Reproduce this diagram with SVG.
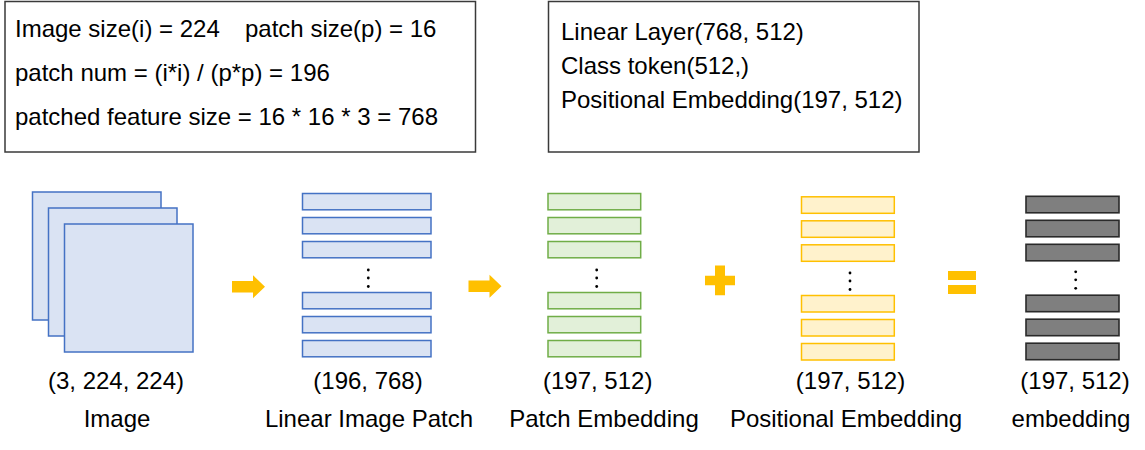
<svg xmlns="http://www.w3.org/2000/svg" width="1145" height="450" viewBox="0 0 1145 450">
<style>
text{font-family:"Liberation Sans",Arial,sans-serif;font-size:24px;fill:#000}
.c{text-anchor:middle}
.box{fill:#fff;stroke:#3a3a3a;stroke-width:1.5}
.blue{fill:#dae3f3;stroke:#4472c4;stroke-width:1.5}
.green{fill:#e2f0d9;stroke:#70ad47;stroke-width:1.5}
.yellow{fill:#fff2cc;stroke:#ffc000;stroke-width:1.5}
.gray{fill:#7f7f7f;stroke:#2a2a2a;stroke-width:1.6}
.dot{fill:#000}
.op{fill:#ffc000}
</style>
<defs>
<path id="arrow" d="M0,-5.8 H21 V-11.5 L33,0 L21,11.5 V5.8 H0 Z"/>
<g id="dots"><circle cx="0" cy="0" r="1.4"/><circle cx="0" cy="8" r="1.4"/><circle cx="0" cy="16.5" r="1.4"/></g>
</defs>
<rect width="1145" height="450" fill="#fff"/>

<g id="info-box">
<rect class="box" x="5" y="1.5" width="470.5" height="150.5"/>
<text x="15" y="37">Image size(i) = 224</text>
<text x="245" y="37">patch size(p) = 16</text>
<text x="15" y="80.5">patch num = (i*i) / (p*p) = 196</text>
<text x="15" y="124.5">patched feature size = 16 * 16 * 3 = 768</text>
</g>

<g id="layer-box">
<rect class="box" x="548.5" y="1.5" width="370.5" height="150.5"/>
<text x="561" y="40">Linear Layer(768, 512)</text>
<text x="561" y="74">Class token(512,)</text>
<text x="561" y="108">Positional Embedding(197, 512)</text>
</g>

<g id="image">
<rect class="blue" x="32.5" y="192" width="128.5" height="128"/>
<rect class="blue" x="48.5" y="208" width="128.5" height="128"/>
<rect class="blue" x="64.5" y="224" width="128.5" height="128"/>
<text class="c" x="116" y="389">(3, 224, 224)</text>
<text class="c" x="117" y="427">Image</text>
</g>

<g id="linear-image-patch">
<rect class="blue" x="302.5" y="193.5" width="128.5" height="16.3"/>
<rect class="blue" x="302.5" y="217.5" width="128.5" height="16.3"/>
<rect class="blue" x="302.5" y="241.5" width="128.5" height="16.3"/>
<use href="#dots" class="dot" x="368.3" y="270"/>
<rect class="blue" x="302.5" y="292.5" width="128.5" height="16.3"/>
<rect class="blue" x="302.5" y="316.5" width="128.5" height="16.3"/>
<rect class="blue" x="302.5" y="340.5" width="128.5" height="16.3"/>
<text class="c" x="368" y="389">(196, 768)</text>
<text class="c" x="369" y="427">Linear Image Patch</text>
</g>

<g id="patch-embedding">
<rect class="green" x="548" y="193.5" width="92.7" height="16.3"/>
<rect class="green" x="548" y="217.5" width="92.7" height="16.3"/>
<rect class="green" x="548" y="241.5" width="92.7" height="16.3"/>
<use href="#dots" class="dot" x="596.7" y="270"/>
<rect class="green" x="548" y="292.5" width="92.7" height="16.3"/>
<rect class="green" x="548" y="316.5" width="92.7" height="16.3"/>
<rect class="green" x="548" y="340.5" width="92.7" height="16.3"/>
<text class="c" x="597.7" y="389">(197, 512)</text>
<text class="c" x="604" y="427">Patch Embedding</text>
</g>

<g id="positional-embedding">
<rect class="yellow" x="801.5" y="196.8" width="92.8" height="16.5"/>
<rect class="yellow" x="801.5" y="220.8" width="92.8" height="16.5"/>
<rect class="yellow" x="801.5" y="244.8" width="92.8" height="16.5"/>
<use href="#dots" class="dot" x="850" y="273"/>
<rect class="yellow" x="801.5" y="295.5" width="92.8" height="16.5"/>
<rect class="yellow" x="801.5" y="319.5" width="92.8" height="16.5"/>
<rect class="yellow" x="801.5" y="343.5" width="92.8" height="16.5"/>
<text class="c" x="850.5" y="389">(197, 512)</text>
<text class="c" x="846" y="427">Positional Embedding</text>
</g>

<g id="embedding">
<rect class="gray" x="1026" y="196.3" width="93" height="16.5"/>
<rect class="gray" x="1026" y="220.3" width="93" height="16.5"/>
<rect class="gray" x="1026" y="244.3" width="93" height="16.5"/>
<use href="#dots" class="dot" x="1075.7" y="271.8"/>
<rect class="gray" x="1026" y="295.2" width="93" height="16.5"/>
<rect class="gray" x="1026" y="319.2" width="93" height="16.5"/>
<rect class="gray" x="1026" y="343.2" width="93" height="16.5"/>
<text class="c" x="1075" y="389">(197, 512)</text>
<text class="c" x="1071" y="427">embedding</text>
</g>

<g id="connectors">
<use href="#arrow" class="op" x="232" y="286.7"/>
<use href="#arrow" class="op" x="468.5" y="286.3"/>
</g>

<g id="plus">
<path class="op" d="M715,265.5 H725 V275.7 H735 V285.3 H725 V295.3 H715 V285.3 H705 V275.7 H715 Z"/>
</g>

<g id="equals">
<rect class="op" x="948" y="271" width="28" height="9"/>
<rect class="op" x="948" y="285" width="28" height="9"/>
</g>
</svg>
